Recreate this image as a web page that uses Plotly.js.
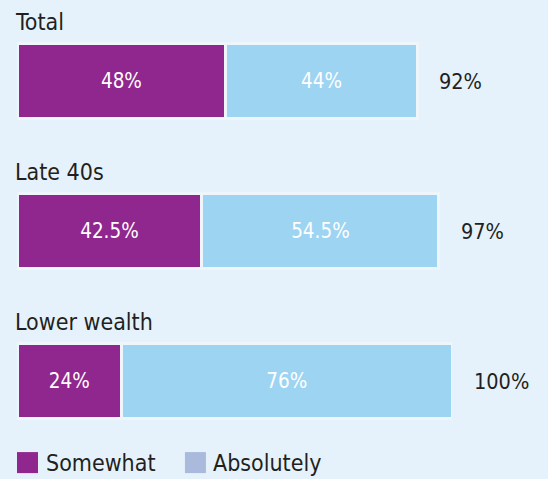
<!DOCTYPE html>
<html>
<head>
<meta charset="utf-8">
<script src="https://cdn.plot.ly/plotly-3.0.1.min.js"></script>
<style>html,body{margin:0;padding:0;background:#e6f2fb;}</style>
</head>
<body>
<div id="chart" style="width:548px;height:479px;"></div>
<script>
var categories = ['Total', 'Late 40s', 'Lower wealth'];
var somewhat = [48, 42.5, 24];
var absolutely = [44, 54.5, 76];
var seriesNames = ['Somewhat', 'Absolutely'];
var barColors = ['#90278e', '#9dd4f2'];
var legendColors = ['#90278e', '#a9badc'];

var FONT = '"DejaVu Sans Condensed", "Liberation Sans Narrow", "Liberation Sans", sans-serif';
var TXT = '#231f20';

var totals = somewhat.map(function (v, i) { return v + absolutely[i]; });

function barTrace(vals, name, color) {
  return {
    type: 'bar', orientation: 'h', name: name,
    x: vals, y: categories,
    width: 0.497,
    marker: {color: color, line: {color: '#eef6fc', width: 3}},
    text: vals.map(function (v) { return v + '%'; }),
    textposition: 'inside', insidetextanchor: 'middle',
    textfont: {family: FONT, size: 20.5, color: '#ffffff'},
    hoverinfo: 'skip', showlegend: false
  };
}

var data = [
  barTrace(somewhat, seriesNames[0], barColors[0]),
  barTrace(absolutely, seriesNames[1], barColors[1])
];

var annotations = [];
categories.forEach(function (c, i) {
  annotations.push({
    x: 0, y: c, xref: 'x', yref: 'y', xanchor: 'left', yanchor: 'middle',
    yshift: 59, xshift: -4, showarrow: false, text: c,
    font: {family: FONT, size: 23, color: TXT}
  });
  annotations.push({
    x: totals[i], y: c, xref: 'x', yref: 'y', xanchor: 'left', yanchor: 'middle',
    xshift: 20, showarrow: false, text: totals[i] + '%',
    font: {family: FONT, size: 21.5, color: TXT}
  });
});

var legX = [0, 0.386];
var shapes = [];
seriesNames.forEach(function (n, i) {
  shapes.push({
    type: 'rect', xref: 'paper', yref: 'paper',
    x0: legX[i], x1: legX[i] + 0.0483, y0: -0.038, y1: 0.0087,
    fillcolor: legendColors[i], line: {width: 0}
  });
  annotations.push({
    x: legX[i] + 0.061, y: -0.0158, xref: 'paper', yref: 'paper',
    xanchor: 'left', yanchor: 'middle', showarrow: false, text: n,
    font: {family: FONT, size: 23, color: TXT}
  });
});

var layout = {
  width: 548, height: 479,
  margin: {l: 17, r: 96, t: 6, b: 23},
  paper_bgcolor: '#e6f2fb', plot_bgcolor: '#e6f2fb',
  barmode: 'stack',
  showlegend: false,
  xaxis: {range: [0, 100], visible: false, fixedrange: true},
  yaxis: {type: 'category', categoryarray: categories, range: [2.5, -0.5], visible: false, fixedrange: true},
  annotations: annotations,
  shapes: shapes
};

Plotly.newPlot('chart', data, layout, {displayModeBar: false, staticPlot: true});
</script>
</body>
</html>
